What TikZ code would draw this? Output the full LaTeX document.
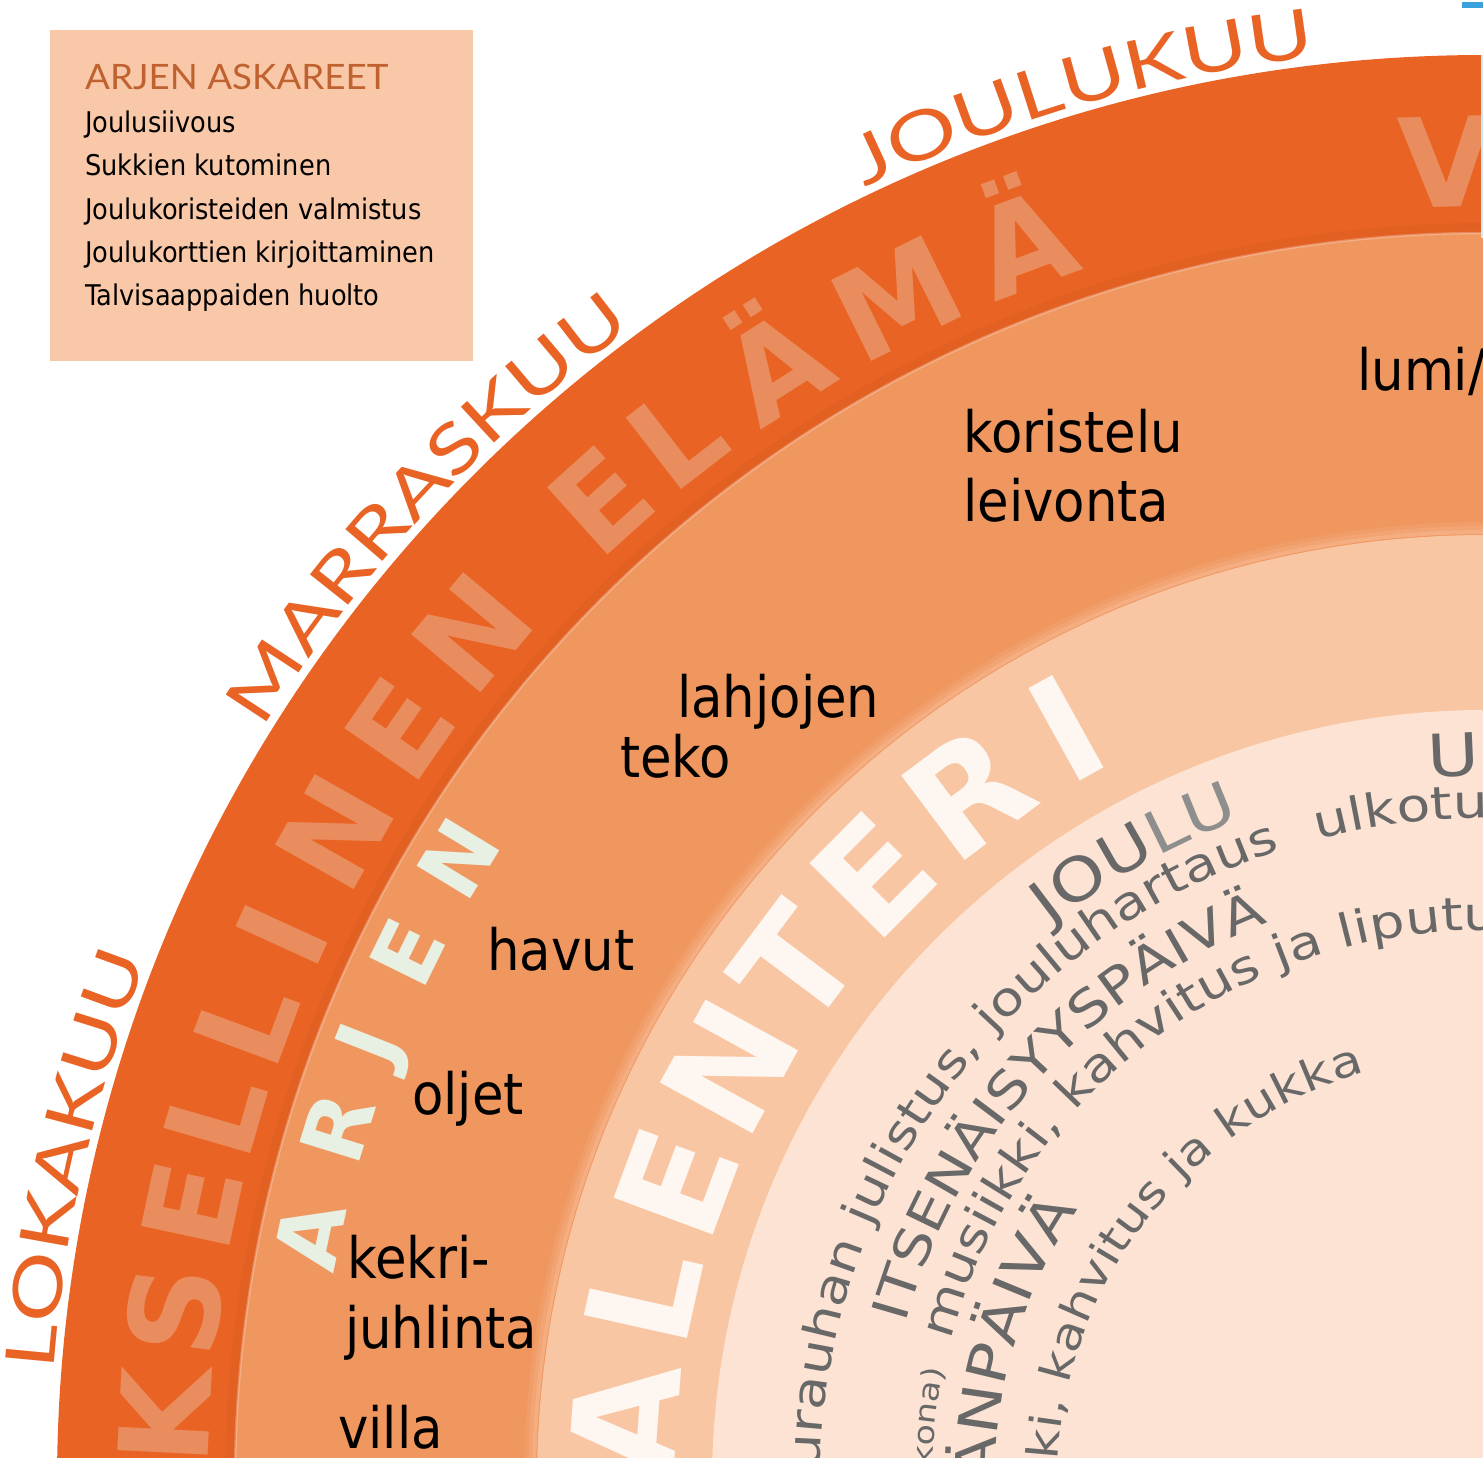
\documentclass[tikz,border=0pt]{standalone}
\usepackage{fontspec}
\setmainfont{DejaVu Sans}
\newfontfamily\tahomalike[FakeStretch=0.9]{DejaVu Sans}
\newfontfamily\greyfont[FakeStretch=1.2]{DejaVu Sans}
\newfontfamily\monthfont[FakeStretch=1.3]{Lato}
\newfontfamily\titlefont[FakeStretch=1.05]{Lato}
\usetikzlibrary{decorations.text}

% colours
\definecolor{ringdark}{RGB}{233,99,36}
\definecolor{ringmid}{RGB}{240,150,95}
\definecolor{ringpeach}{RGB}{248,198,163}
\definecolor{ringlight}{RGB}{253,227,211}
\definecolor{boxfill}{RGB}{249,200,168}
\definecolor{titlebrown}{RGB}{192,98,47}
\definecolor{ghost}{RGB}{233,141,94}
\definecolor{mint}{RGB}{231,240,226}
\definecolor{snow}{RGB}{254,246,240}
\definecolor{greytext}{RGB}{104,104,104}
\definecolor{greylight}{RGB}{142,142,142}
\definecolor{tickblue}{RGB}{59,163,220}

% sizes for the curved texts
\newcommand\monthsize{\monthfont\fontsize{68}{68}\selectfont\color{ringdark}}
\newcommand\feastsize{\greyfont\fontsize{59}{59}\selectfont\color{greytext}}
\newcommand\feastlight{\greyfont\fontsize{59}{59}\selectfont\color{greylight}}
\newcommand\capsize{\greyfont\fontsize{50}{50}\selectfont\color{greytext}}
\newcommand\dayname{\greyfont\fontsize{55}{55}\selectfont\color{greytext}}
\newcommand\rowsize{\greyfont\fontsize{46}{46}\selectfont\color{greytext}}
\newcommand\innerrow{\greyfont\fontsize{43}{43}\selectfont\color{greytext}}
\newcommand\smallrow{\greyfont\fontsize{29}{29}\selectfont\color{greytext}}

\tikzset{
  task/.style={anchor=base west, inner sep=0pt, font=\tahomalike\fontsize{57}{57}\selectfont},
  chore/.style={anchor=base west, inner sep=0pt, font=\tahomalike\fontsize{28.5}{28.5}\selectfont},
  ghostletter/.style={anchor=base, inner sep=0pt, text=ghost, font=\bfseries\fontsize{124}{124}\selectfont},
  arjenletter/.style={anchor=base, inner sep=0pt, text=mint, font=\bfseries\fontsize{86}{86}\selectfont},
  kalletter/.style={anchor=base, inner sep=0pt, text=snow, font=\bfseries\fontsize{145}{145}\selectfont},
  curved/.style={decorate, decoration={text along path, text align=left, text={#1}}}
}

\begin{document}
\begin{tikzpicture}[x=1pt, y=1pt]
  \useasboundingbox (0,0) rectangle (1483,-1458);
  \clip (0,0) rectangle (1483,-1458);
  \fill[white] (0,0) rectangle (1483,-1458);
  \coordinate (O) at (1485,-1483);

  \begin{scope}[shift={(O)}]
    % Rings
    \fill[ringdark] (0,0) circle[radius=1428];
    \draw[ringdark!85!black, opacity=0.15, line width=10] (0,0) circle[radius=1255];
    \fill[ringmid] (0,0) circle[radius=1250];
    \draw[white, opacity=0.25, line width=2.5] (0,0) circle[radius=1250];
    \fill[ringpeach] (0,0) circle[radius=948];
    \draw[ringpeach, opacity=0.5, line width=4] (0,0) circle[radius=951];
    \draw[ringpeach, opacity=0.3, line width=4] (0,0) circle[radius=955];
    \draw[ringpeach, opacity=0.15, line width=4] (0,0) circle[radius=959];
    \fill[ringlight] (0,0) circle[radius=773];

    % Months
    \path[curved={|\monthsize|LOKAKUU}] (175.5:1436) arc[start angle=175.5, end angle=60, radius=1436];
    \path[curved={|\monthsize|MARRASKUU}] (148.3:1436) arc[start angle=148.3, end angle=40, radius=1436];
    \path[curved={|\monthsize|JOULUKUU}] (115.6:1436) arc[start angle=115.6, end angle=10, radius=1436];

    % Big letters
    \foreach \ch/\a [count=\i] in {K/177.1, S/172.5, E/167.9, L/163.8, L/159.6, I/155.5, N/150.5, E/145.2, N/140.0, E/132.0, L/127.7, Ä/122.4, M/116.4, Ä/110.4, V/91.7}
      \path (\a:1277) node[ghostletter, rotate=\a-90] (outer\i) {\ch};
    \foreach \ch/\a [count=\i] in {A/168.1, R/162.8, J/158.5, E/153.8, N/148.7}
      \path (\a:1170) node[arjenletter, rotate=\a-90] (arjen\i) {\ch};
    \foreach \ch/\a [count=\i] in {A/175.8, L/167.4, E/159.6, N/151.2, T/143.1, E/135.2, R/126.9, I/119.0}
      \path (\a:810) node[kalletter, rotate=\a-90] (kal\i) {\ch};

    % Feasts
    \path[curved={|\feastsize|JOU|\feastlight|LU}] (128:707) arc[start angle=128, end angle=20, radius=707];
    \path[curved={|\feastsize|U}] (94.6:707) arc[start angle=94.6, end angle=20, radius=707];
    \path[curved={|\rowsize|urauhan julistus, jouluhartaus}] (178.8:665) arc[start angle=178.8, end angle=20, radius=665];
    \path[curved={|\rowsize|ulkotu}] (104.6:665) arc[start angle=104.6, end angle=20, radius=665];
    \path[curved={|\capsize|ITSENÄISYYSPÄIVÄ}] (164.6:601) arc[start angle=164.6, end angle=20, radius=601];
    \path[curved={|\smallrow|kona)}] (178.3:553) arc[start angle=178.3, end angle=120, radius=553];
    \path[curved={|\rowsize|musiikki, kahvitus ja liputu}] (165.1:553) arc[start angle=165.1, end angle=20, radius=553];
    \path[curved={|\dayname|ÄNPÄIVÄ}] (179.8:490) arc[start angle=179.8, end angle=20, radius=490];
    \path[curved={|\innerrow|ki, kahvitus ja kukka}] (177:428) arc[start angle=177, end angle=20, radius=428];
  \end{scope}

  % Chores box
  \node[fill=boxfill, anchor=north west, minimum width=423, minimum height=331, inner sep=0pt] (chorebox) at (50,-30) {};
  \node[anchor=base west, inner sep=0pt, text=titlebrown, font=\titlefont\fontsize{35}{35}\selectfont] (choretitle) at (85,-90) {ARJEN ASKAREET};
  \foreach \txt [count=\i] in {Joulusiivous, Sukkien kutominen, Joulukoristeiden valmistus, Joulukorttien kirjoittaminen, Talvisaappaiden huolto}
    \node[chore] (chore\i) at (85,-90-43*\i) {\txt};

  % Tasks
  \node[task] (lumi) at (1357,-390) {lumi/};
  \node[task] (koristelu) at (963,-452) {koristelu};
  \node[task] (leivonta) at (963,-521) {leivonta};
  \node[task] (lahjojen) at (677,-717) {lahjojen};
  \node[task] (teko) at (620,-777) {teko};
  \node[task] (havut) at (487,-970) {havut};
  \node[task] (oljet) at (412,-1114) {oljet};
  \node[task] (kekri) at (347,-1278) {kekri-};
  \node[task] (juhlinta) at (345,-1348) {juhlinta};
  \node[task] (villa) at (338,-1448) {villa};

  % corner marks
  \fill[tickblue] (1462,-2) rectangle (1483,-8);
  \draw[tickblue!25, line width=1.5] (1482,-55) -- (1482,-238);
\end{tikzpicture}
\end{document}
